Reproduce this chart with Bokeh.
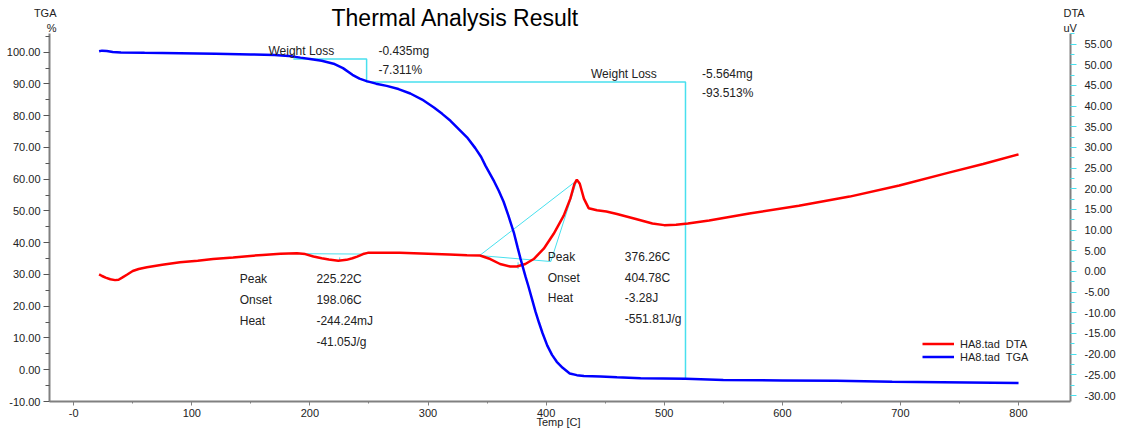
from bokeh.plotting import figure
from bokeh.layouts import column
from bokeh.models import Range1d, LinearAxis, FixedTicker, NumeralTickFormatter, Label
from bokeh.embed import file_html
from bokeh.resources import INLINE

# ---------------- data ----------------
temp_tga = [21.5, 24, 28, 33, 40, 60, 90, 120, 150, 170, 185, 192, 200, 210, 220, 228,
            236, 242, 248, 256, 265, 275, 285, 295, 305, 312, 319, 326, 333, 340, 345,
            348.6, 352, 356, 360, 364, 368, 372.6, 376, 378.3, 382.5, 385, 388, 391, 394,
            397, 401, 405, 409, 414, 420, 426, 432, 446, 460, 480, 518, 550, 600, 646,
            693, 757, 800]
tga = [100.3, 100.5, 100.4, 100.1, 99.9, 99.8, 99.7, 99.5, 99.3, 99.1, 98.7, 98.3, 97.9,
       97.3, 96.4, 95.0, 92.9, 91.7, 90.9, 90.1, 89.4, 88.4, 87.0, 85.1, 82.6, 80.6, 78.4,
       75.8, 73.2, 69.8, 67.0, 64.3, 62.0, 59.3, 56.3, 52.9, 48.6, 43.3, 38.3, 35.0, 29.4,
       26.3, 22.3, 18.3, 14.8, 11.5, 7.6, 4.7, 2.5, 0.6, -1.2, -1.7, -2.0, -2.1, -2.4,
       -2.7, -2.85, -3.2, -3.35, -3.5, -3.8, -4.0, -4.2]

temp_dta = [21.5, 24, 27, 31, 35, 38, 41, 45, 50, 55, 62, 75, 90, 105, 118, 135, 147, 160,
            175, 189, 196, 203, 210, 216, 224, 231, 236, 240, 245, 249, 260, 276, 300, 318,
            333, 344, 352.7, 361, 369.6, 375.3, 382.4, 389.5, 398, 406.4, 414.9, 420.5, 424,
            426, 428.5, 432, 436, 443, 451, 460, 476, 490, 500, 510, 520, 538, 572, 614, 657,
            699, 741, 770, 800]
dta = [-0.7, -1.1, -1.5, -1.9, -2.1, -2.0, -1.5, -0.8, 0.1, 0.6, 1.0, 1.6, 2.2, 2.6, 3.0,
       3.4, 3.7, 4.0, 4.3, 4.4, 4.2, 3.6, 3.2, 2.9, 2.6, 2.8, 3.2, 3.6, 4.2, 4.5, 4.5, 4.5,
       4.3, 4.1, 3.9, 3.85, 3.0, 1.8, 1.2, 1.2, 1.8, 3.0, 5.5, 9.1, 13.5, 17.6, 21.2, 22.2,
       21.2, 17.6, 15.3, 14.8, 14.5, 13.9, 12.7, 11.6, 11.2, 11.3, 11.6, 12.3, 14.0, 15.9,
       18.1, 20.8, 23.9, 26.0, 28.3]

# weight-loss step construction (temperature, TGA level)
wl_temps = [186, 248, 248, 518, 518]
wl_levels = [97.9, 97.9, 90.59, 90.59, -2.92]

# DTA peak analysis constructions
peak1_base_t = [189, 246]
peak1_base_v = [4.3, 4.2]
peak1_t = 225.22
peak1_mark_v = [3.4, 2.5]
peak2_a = (343.7, 3.85)
peak2_b = (404.0, 2.4)
peak2_apex = (426.0, 22.0)
peak2_t = 376.26
peak2_mark_v = [2.2, 0.6]

x_ticks = [0, 100, 200, 300, 400, 500, 600, 700, 800]
x_tick_labels = ["-0", "100", "200", "300", "400", "500", "600", "700", "800"]
x_minor = [50, 150, 250, 350, 450, 550, 650, 750]
tga_ticks = [-10, 0, 10, 20, 30, 40, 50, 60, 70, 80, 90, 100]
tga_minor = [-5, 5, 15, 25, 35, 45, 55, 65, 75, 85, 95, 105]
dta_ticks = [-30, -25, -20, -15, -10, -5, 0, 5, 10, 15, 20, 25, 30, 35, 40, 45, 50, 55]
dta_minor = [-27.5, -22.5, -17.5, -12.5, -7.5, -2.5, 2.5, 7.5, 12.5, 17.5, 22.5, 27.5,
             32.5, 37.5, 42.5, 47.5, 52.5, 57.5]

FONT = "Liberation Sans"
TXT = "#222222"
CYAN = "#48e0ee"

# ---------------- header strip (title and axis units) ----------------
top = figure(width=1127, height=33, x_range=Range1d(49, 1070), y_range=Range1d(0, 26),
             x_axis_type=None, y_axis_type=None, output_backend="svg", toolbar_location=None,
             min_border_left=0, min_border_right=0, min_border_top=7, min_border_bottom=0)
top.outline_line_color = None
top.grid.visible = False
top.add_layout(Label(x=455, y=15.5, text="Thermal Analysis Result", text_font=FONT,
                     text_font_size="23px", text_color="#000000",
                     text_align="center", text_baseline="middle"))


def unit_axis(text, side):
    ax = LinearAxis(ticker=FixedTicker(ticks=[]), axis_line_color=None,
                    major_tick_out=0, major_tick_in=0, minor_tick_out=0, minor_tick_in=0,
                    major_label_text_font_size="0px", axis_label=text,
                    axis_label_orientation="horizontal", axis_label_standoff=-7,
                    axis_label_text_font=FONT, axis_label_text_font_size="11px",
                    axis_label_text_font_style="normal", axis_label_text_color=TXT)
    top.add_layout(ax, side)


unit_axis("TGA\n%", "left")
unit_axis("DTA\nuV", "right")

# ---------------- main plot ----------------
p = figure(width=1127, height=397, x_range=Range1d(-20.5, 844), y_range=Range1d(-10, 105.9),
           output_backend="svg", toolbar_location=None,
           min_border_left=49, min_border_right=57, min_border_top=0, min_border_bottom=29)
p.extra_y_ranges = {"dta": Range1d(-31.45, 57.54)}
p.outline_line_color = None
p.grid.visible = False

# bottom axis
xa = p.xaxis[0]
xa.ticker = FixedTicker(ticks=x_ticks, minor_ticks=x_minor)
xa.major_label_overrides = dict(zip(x_ticks, x_tick_labels))
xa.axis_line_color = "#808080"
xa.axis_line_width = 2
xa.major_tick_line_color = "#808080"
xa.minor_tick_line_color = "#808080"
xa.major_tick_out = 4
xa.major_tick_in = 0
xa.minor_tick_out = 2
xa.minor_tick_in = 0
xa.major_label_standoff = 3
xa.major_label_text_font = FONT
xa.major_label_text_font_size = "11px"
xa.major_label_text_color = TXT
xa.axis_label = "Temp  [C]"
xa.axis_label_text_font = FONT
xa.axis_label_text_font_size = "11px"
xa.axis_label_text_font_style = "normal"
xa.axis_label_text_color = TXT
xa.axis_label_standoff = -4

# left axis
ya = p.yaxis[0]
ya.ticker = FixedTicker(ticks=tga_ticks, minor_ticks=tga_minor)
ya.formatter = NumeralTickFormatter(format="0.00")
ya.axis_line_color = "#808080"
ya.axis_line_width = 2
ya.major_tick_line_color = "#555555"
ya.minor_tick_line_color = "#555555"
ya.major_tick_out = 6
ya.major_tick_in = 0
ya.minor_tick_out = 4
ya.minor_tick_in = 0
ya.major_label_standoff = 3
ya.major_label_text_font = FONT
ya.major_label_text_font_size = "11px"
ya.major_label_text_color = TXT

# right axis
ra = LinearAxis(y_range_name="dta")
ra.ticker = FixedTicker(ticks=dta_ticks, minor_ticks=dta_minor)
ra.formatter = NumeralTickFormatter(format="0.00")
ra.axis_line_color = "#808080"
ra.axis_line_width = 2
ra.major_tick_line_color = CYAN
ra.minor_tick_line_color = CYAN
ra.major_tick_out = 6
ra.major_tick_in = 0
ra.minor_tick_out = 4
ra.minor_tick_in = 0
ra.major_label_standoff = 8
ra.major_label_text_font = FONT
ra.major_label_text_font_size = "11px"
ra.major_label_text_color = TXT
p.add_layout(ra, "right")

# constructions
p.line(wl_temps, wl_levels, color=CYAN, line_width=1.5)
p.line(peak1_base_t, peak1_base_v, color=CYAN, line_width=1, y_range_name="dta")
p.line([peak1_t, peak1_t], peak1_mark_v, color=CYAN, line_width=1, y_range_name="dta")
p.line([peak2_a[0], peak2_apex[0]], [peak2_a[1], peak2_apex[1]], color=CYAN, line_width=1, y_range_name="dta")
p.line([peak2_a[0], peak2_b[0]], [peak2_a[1], peak2_b[1]], color=CYAN, line_width=1, y_range_name="dta")
p.line([peak2_b[0], peak2_apex[0]], [peak2_b[1], peak2_apex[1]], color=CYAN, line_width=1, y_range_name="dta")
p.line([peak2_t, peak2_t], peak2_mark_v, color=CYAN, line_width=1, y_range_name="dta")

# curves
p.line(temp_dta, dta, y_range_name="dta", color="#ff0000", line_width=2.5, legend_label="HA8.tad  DTA")
p.line(temp_tga, tga, color="#0000ff", line_width=2.5, legend_label="HA8.tad  TGA")

lg = p.legend[0]
lg.location = (873, 38)
lg.border_line_alpha = 0
lg.background_fill_alpha = 0
lg.padding = 0
lg.margin = 0
lg.spacing = 0
lg.glyph_width = 32
lg.glyph_height = 13
lg.label_height = 13
lg.label_standoff = 6
lg.label_text_font = FONT
lg.label_text_font_size = "11px"
lg.label_text_color = TXT


def lab(x, y, text):
    p.add_layout(Label(x=x, y=y, text=text, text_font=FONT, text_font_size="12px",
                       text_color=TXT, text_align="left", text_baseline="middle"))


# weight-loss annotations
lab(164.9, 100.5, "Weight Loss")
lab(258, 100.5, "-0.435mg")
lab(258, 94.55, "-7.311%")
lab(438, 93.3, "Weight Loss")
lab(532, 93.3, "-5.564mg")
lab(532, 87.3, "-93.513%")

# peak annotations
lab(140.6, 28.58, "Peak")
lab(205.5, 28.58, "225.22C")
lab(140.6, 21.97, "Onset")
lab(205.5, 21.97, "198.06C")
lab(140.6, 15.35, "Heat")
lab(205.5, 15.35, "-244.24mJ")
lab(205.5, 8.74, "-41.05J/g")

lab(401.4, 35.66, "Peak")
lab(466.6, 35.66, "376.26C")
lab(401.4, 29.05, "Onset")
lab(466.6, 29.05, "404.78C")
lab(401.4, 22.44, "Heat")
lab(466.6, 22.44, "-3.28J")
lab(466.6, 16.14, "-551.81J/g")

layout = column(top, p, spacing=0)
open("out.html", "w").write(file_html(layout, INLINE))
